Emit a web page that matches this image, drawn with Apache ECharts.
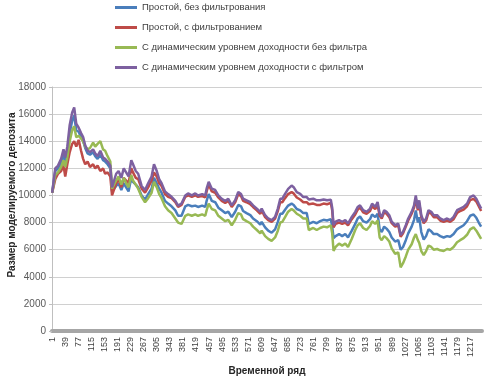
<!DOCTYPE html>
<html>
<head>
<meta charset="utf-8">
<script src="https://cdn.jsdelivr.net/npm/echarts@6/dist/echarts.min.js"></script>
<style>html,body{margin:0;padding:0;background:#fff}#c{width:488px;height:382px}</style>
</head>
<body>
<div id="c"></div>
<script>
const categoryCount = 1250;
const categories = [];
for (let i = 1; i <= categoryCount; i++) categories.push(String(i));

const seriesNames = [
  'Простой, без фильтрования',
  'Простой, с фильтрованием',
  'С динамическим уровнем доходности без фильтра',
  'С динамическим уровнем доходности с фильтром'
];

const yTicks = { min: 0, max: 18000, interval: 2000 };

const xIdx = [1,10,18,27,34,39,45,52,59,65,
 71,78,85,91,97,104,111,120,126,133,
 141,149,155,162,170,175,180,187,194,202,
 209,216,223,231,236,244,251,261,271,280,
 290,297,305,312,319,329,338,348,359,367,
 377,388,396,407,417,425,437,446,450,456,
 465,475,484,494,504,513,523,533,542,550,
 556,566,577,585,596,606,610,620,629,639,
 649,657,664,670,678,687,697,703,712,722,
 731,741,747,751,760,770,780,790,800,811,
 815,819,825,835,844,853,861,872,882,889,
 896,905,915,925,931,940,947,953,959,966,
 973,981,988,998,1007,1014,1021,1029,1036,1046,
 1053,1058,1064,1068,1074,1081,1088,1095,1103,1110,
 1120,1129,1139,1149,1158,1168,1178,1187,1197,1207,
 1216,1226,1234,1241,1248];

const simpleNoFilter = [
 10200,11800,12000,12400,13000,12500,13200,14600,15500,15900,
 14800,14700,14300,14000,13500,13100,13000,13200,12900,12700,
 13000,12600,12500,12300,12000,10300,10400,10700,10900,10400,
 10900,10600,10300,11300,11000,10800,10600,10000,9700,10100,
 10500,11300,10900,10500,10200,9600,9400,9200,8900,8500,
 8500,9200,9300,9200,9250,9150,9250,9150,9600,10100,
 9600,9500,9100,8900,8700,8800,8400,8800,9300,9200,
 8850,8700,8550,8300,8100,7850,8050,7650,7400,7250,
 7500,8050,8650,8650,8950,9250,9400,9300,9000,8900,
 8700,8700,7900,7950,8050,7950,8100,8200,8150,8250,
 7700,6850,7000,7150,7000,7150,6900,7400,7900,8300,
 8450,8100,8000,8250,8600,8400,8650,7500,7300,7700,
 7550,7300,6900,6600,6700,6000,6200,6700,7200,7700,
 8200,8900,8000,8400,7300,6750,7000,7500,7350,7150,
 7150,7000,6900,7000,6950,7150,7500,7650,7800,8100,
 8500,8600,8350,8000,7700];

const simpleFilter = [
 10200,11200,11600,11800,12200,11400,12300,13200,13800,14000,
 13600,14100,13300,12700,12300,12500,12100,12300,12000,12200,
 11800,12000,11600,11700,11400,10000,10100,10900,11200,10600,
 11300,11100,10900,12000,11700,11300,11200,10500,10200,10600,
 11100,11700,11400,10900,10700,10100,9900,9800,9500,9150,
 9300,9900,10000,9900,10000,9900,9950,9850,10300,10800,
 10300,10200,9850,9600,9450,9600,9150,9500,10100,9950,
 9600,9500,9350,9150,8900,8650,8900,8400,8180,8050,
 8300,8850,9500,9500,9800,10100,10250,10150,9850,9700,
 9500,9500,9350,9300,9400,9300,9300,9400,9350,9450,
 8900,7650,7900,8000,7900,8000,7800,8250,8600,8950,
 9100,8750,8650,8850,9200,9000,9300,8500,8300,8750,
 8650,8400,7950,7700,7800,6950,7200,7700,8150,8650,
 9100,9750,8900,9450,8400,7950,8150,8750,8650,8400,
 8400,8150,8050,8150,8050,8250,8700,8850,8950,9200,
 9650,9750,9550,9200,8850];

const dynamicNoFilter = [
 10200,11500,11700,12100,12600,12100,12800,14000,14800,15100,
 14300,14400,14200,14000,13600,13400,13500,13900,13600,13800,
 14000,13400,13300,12900,12500,10500,10600,11100,11400,10800,
 11300,10900,10600,11500,11100,10800,10500,9900,9500,9800,
 10200,11000,10600,10100,9800,9200,8900,8700,8300,8000,
 7900,8500,8600,8500,8600,8500,8600,8500,8900,9400,
 9000,8900,8500,8300,8100,8200,7800,8200,8700,8600,
 8250,8100,7950,7700,7450,7200,7400,7000,6800,6650,
 6900,7400,8000,8050,8400,8800,9000,8900,8650,8500,
 8300,8300,7450,7500,7600,7450,7600,7700,7650,7800,
 7200,5900,6200,6450,6300,6450,6200,6800,7450,7800,
 7950,7600,7450,7750,8100,7900,8150,6900,6700,7000,
 6850,6600,6100,5700,5800,4700,5000,5500,6000,6400,
 6900,7150,6700,6500,5900,5600,5900,6300,6200,6000,
 6050,5950,5900,6050,6000,6200,6550,6700,6850,7100,
 7500,7650,7400,7100,6800];

const dynamicFilter = [
 10200,12000,12200,12700,13400,12800,13600,15200,16100,16500,
 15300,15000,14600,14300,13700,13300,13200,13400,13100,12900,
 13300,12800,12700,12500,12200,10600,10700,11600,11800,11300,
 12000,11700,11400,12600,12300,11800,11600,10700,10400,10900,
 11400,12300,11800,11200,10900,10300,10100,9900,9600,9250,
 9400,10000,10150,10000,10150,10000,10100,10000,10500,11000,
 10500,10400,10000,9750,9600,9750,9270,9650,10250,10100,
 9760,9640,9500,9270,9030,8790,9030,8540,8300,8180,
 8420,9030,9760,9760,10120,10490,10730,10610,10240,10120,
 9880,9880,9700,9640,9760,9640,9640,9700,9640,9690,
 9100,7810,8060,8180,8060,8180,7930,8420,8790,9150,
 9270,8910,8790,9030,9390,9150,9510,8660,8420,8910,
 8790,8540,8060,7810,7930,7080,7320,7810,8300,8790,
 9270,10000,9030,9640,8540,8060,8300,8910,8790,8540,
 8540,8300,8180,8300,8180,8420,8910,9030,9150,9390,
 9880,10000,9760,9390,9030];

const colors = ['#4A7EBB', '#BE4B48', '#98B954', '#7D60A0'];
const valueSets = [simpleNoFilter, simpleFilter, dynamicNoFilter, dynamicFilter];

const FONT = 'Liberation Sans';
const chart = echarts.init(document.getElementById('c'), null, { renderer: 'canvas' });

chart.setOption({
  animation: false,
  backgroundColor: '#ffffff',
  color: colors,
  legend: {
    orient: 'vertical',
    left: 110,
    top: -3,
    itemWidth: 22,
    itemHeight: 3,
    itemGap: 9,
    icon: 'rect',
    textStyle: { fontFamily: FONT, fontSize: 9.5, color: '#404040', lineHeight: 11 },
    data: seriesNames
  },
  grid: { left: 52, right: 6, top: 87, bottom: 51, containLabel: false },
  xAxis: {
    type: 'category',
    data: categories,
    boundaryGap: true,
    axisLine: { show: true, lineStyle: { color: '#a6a6a6', width: 4 } },
    axisTick: { show: false },
    axisLabel: {
      interval: 37,
      rotate: 90,
      margin: 6,
      fontFamily: FONT,
      fontSize: 9,
      color: '#404040'
    },
    splitLine: { show: false },
    name: 'Временной ряд',
    nameLocation: 'middle',
    nameGap: 35,
    nameTextStyle: { fontFamily: FONT, fontSize: 10, fontWeight: 'bold', color: '#262626' }
  },
  yAxis: {
    type: 'value',
    min: yTicks.min,
    max: yTicks.max,
    interval: yTicks.interval,
    axisLine: { show: true, lineStyle: { color: '#bfbfbf', width: 1 } },
    axisTick: { show: true, length: 3, lineStyle: { color: '#bfbfbf' } },
    axisLabel: { fontFamily: FONT, fontSize: 10, color: '#595959', margin: 6, formatter: (v) => String(v) },
    splitLine: { show: true, lineStyle: { color: '#d0d0d0', width: 1 } }
  },
  graphic: [{
    type: 'text',
    x: 12,
    y: 195,
    rotation: Math.PI / 2,
    style: {
      text: 'Размер моделируемого депозита',
      fontFamily: FONT,
      fontSize: 10,
      fontWeight: 'bold',
      fill: '#262626',
      align: 'center',
      verticalAlign: 'middle'
    }
  }],
  series: seriesNames.map((name, s) => ({
    name: name,
    type: 'line',
    showSymbol: false,
    symbol: 'none',
    smooth: false,
    z: 2 + s,
    lineStyle: { width: 2.5, color: colors[s] },
    data: xIdx.map((c, i) => [c - 1, valueSets[s][i]])
  }))
});
</script>
</body>
</html>
